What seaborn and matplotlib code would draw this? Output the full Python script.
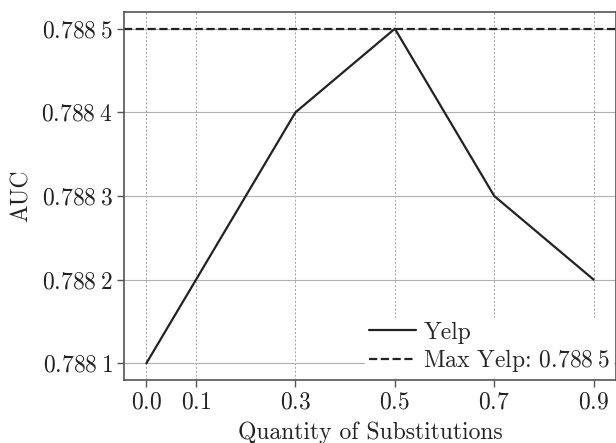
import matplotlib
matplotlib.use("Agg")
import matplotlib.pyplot as plt
import seaborn as sns
import pandas as pd

quantity = [0.0, 0.1, 0.3, 0.5, 0.7, 0.9]
auc = [0.7881, 0.7882, 0.7884, 0.7885, 0.7883, 0.7882]
max_auc = 0.7885
yticks = [0.7881, 0.7882, 0.7883, 0.7884, 0.7885]
ytick_labels = [r"$0.788\:1$", r"$0.788\:2$", r"$0.788\:3$", r"$0.788\:4$", r"$0.788\:5$"]
xtick_labels = [r"$0.0$", r"$0.1$", r"$0.3$", r"$0.5$", r"$0.7$", r"$0.9$"]

sns.set_theme(style="ticks")
plt.rcParams["font.family"] = ["cmr10", "DejaVu Serif"]
plt.rcParams["mathtext.fontset"] = "cm"
plt.rcParams["axes.unicode_minus"] = False

df = pd.DataFrame({"q": quantity, "auc": auc})

fig = plt.figure(figsize=(6.16, 4.43), dpi=100)
ax = fig.add_axes([124 / 616, 63 / 443, 492 / 616, 368 / 443])

sns.lineplot(data=df, x="q", y="auc", ax=ax, color="#222222", linewidth=1.6, label="Yelp")
ax.axhline(max_auc, color="#222222", linestyle="--", linewidth=1.6, label=r"Max Yelp: $0.788\:5$")

ax.set_xlim(-0.045, 0.945)
ax.set_ylim(0.78808, 0.78852)
ax.set_xticks(quantity)
ax.set_xticklabels(xtick_labels)
ax.set_yticks(yticks)
ax.set_yticklabels(ytick_labels)

ax.yaxis.grid(True, color="#b0b0b0", linewidth=0.8, linestyle="-")
ax.xaxis.grid(True, color="#a0a0a0", linewidth=0.7, linestyle=(0, (2, 2)))
ax.set_axisbelow(True)

for s in ax.spines.values():
    s.set_color("#555555")
    s.set_linewidth(1.2)
ax.tick_params(axis="both", labelsize=17, length=5, width=1, direction="out", colors="#222222")
ax.tick_params(axis="both", color="#555555", pad=3)

ax.set_xlabel("Quantity of Substitutions", fontsize=17, color="#222222", labelpad=6)
ax.set_ylabel("AUC", fontsize=17, color="#222222", labelpad=6)

leg = ax.legend(loc="lower right", fontsize=17, frameon=True, fancybox=False,
                borderpad=0.15, handlelength=2.0, handletextpad=0.3, labelspacing=0.15,
                borderaxespad=0.1)
leg.get_frame().set_edgecolor("none")
leg.get_frame().set_facecolor("white")
leg.get_frame().set_alpha(1.0)

fig.savefig("out.png", dpi=100)
